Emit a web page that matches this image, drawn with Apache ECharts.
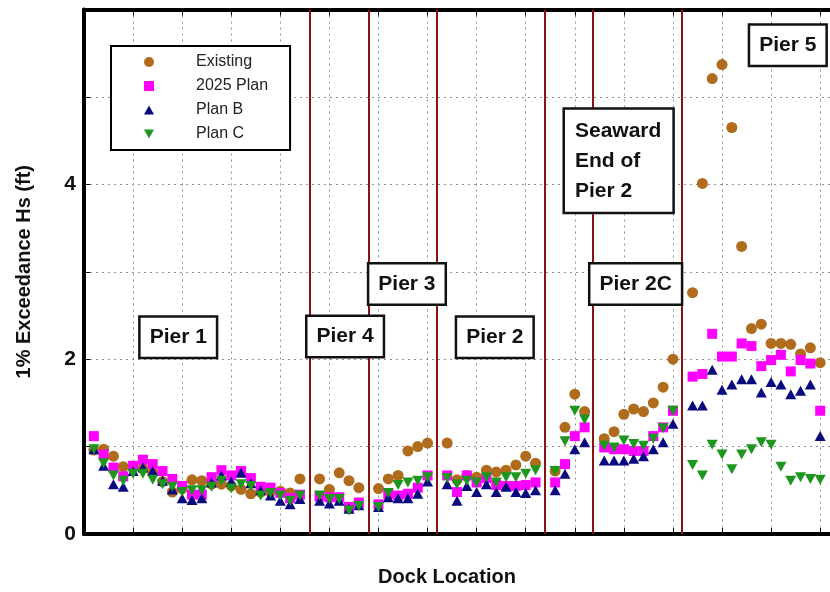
<!DOCTYPE html>
<html><head><meta charset="utf-8">
<script src="https://cdn.jsdelivr.net/npm/echarts@6/dist/echarts.min.js"></script>
<style>html,body{margin:0;padding:0;background:#fff}#c{width:830px;height:592px}</style>
</head><body><div id="c"></div><script>
// Dock location of each station (gaps at pier boundaries)
const loc = [1,2,3,4,5,6,7,8,9,10,11,12,13,14,15,16,17,18,19,20,21,22,
  24,25,26,27,28,
  30,31,32,33,34,35,
  37,38,39,40,41,42,43,44,45,46,
  48,49,50,51,
  53,54,55,56,57,58,59,60,
  62,63,64,65,66,67,68,69,70,71,72,73,74,75];

const existing = [0.96,0.97,0.89,0.77,0.76,0.75,0.70,0.60,0.48,0.52,0.62,0.61,0.57,0.57,0.55,0.51,0.46,0.48,0.48,0.49,0.47,0.63,
  0.63,0.51,0.70,0.61,0.53,
  0.52,0.63,0.67,0.95,1.00,1.04,
  1.04,0.62,0.67,0.65,0.73,0.71,0.73,0.79,0.89,0.81,
  0.72,1.22,1.60,1.40,
  1.09,1.17,1.37,1.43,1.40,1.50,1.68,2.00,
  2.76,4.01,5.21,5.37,4.65,3.29,2.35,2.40,2.18,2.18,2.17,2.06,2.13,1.96];

const plan2025 = [1.12,0.91,0.76,0.66,0.78,0.85,0.80,0.72,0.63,0.55,0.45,0.45,0.65,0.73,0.67,0.72,0.64,0.54,0.53,0.47,0.41,0.45,
  0.43,0.42,0.42,0.31,0.36,
  0.34,0.46,0.44,0.46,0.53,0.67,
  0.67,0.48,0.67,0.59,0.64,0.56,0.55,0.55,0.56,0.59,
  0.59,0.80,1.12,1.22,
  0.99,0.97,0.97,0.95,0.95,1.12,1.22,1.41,
  1.80,1.83,2.29,2.03,2.03,2.18,2.15,1.92,1.99,2.05,1.86,1.99,1.95,1.41];

const planB = [0.97,0.78,0.57,0.54,0.72,0.76,0.72,0.61,0.51,0.41,0.39,0.41,0.59,0.67,0.60,0.70,0.58,0.50,0.44,0.38,0.34,0.40,
  0.38,0.35,0.38,0.29,0.33,
  0.31,0.42,0.41,0.41,0.46,0.60,
  0.57,0.38,0.55,0.48,0.57,0.48,0.54,0.48,0.47,0.50,
  0.50,0.69,0.97,1.05,
  0.84,0.84,0.84,0.86,0.89,0.97,1.05,1.26,
  1.47,1.47,1.88,1.65,1.71,1.77,1.77,1.62,1.74,1.71,1.60,1.64,1.71,1.12];

const planC = [0.97,0.81,0.67,0.61,0.69,0.69,0.62,0.57,0.54,0.48,0.50,0.50,0.54,0.61,0.52,0.57,0.55,0.44,0.47,0.44,0.38,0.44,
  0.44,0.40,0.40,0.27,0.32,
  0.31,0.47,0.56,0.59,0.61,0.65,
  0.64,0.57,0.61,0.59,0.65,0.59,0.65,0.65,0.69,0.73,
  0.72,1.06,1.41,1.31,
  1.01,0.99,1.07,1.03,1.01,1.09,1.21,1.41,
  0.79,0.67,1.02,0.91,0.74,0.91,0.97,1.05,1.02,0.77,0.61,0.65,0.63,0.62];

const seriesNames = ['Existing','2025 Plan','Plan B','Plan C'];
const pierBoundaries = [23, 29, 35.9, 46.9, 51.8, 60.9];
const pierLabels = ['Pier 1','Pier 4','Pier 3','Pier 2','Seaward\nEnd of\nPier 2','Pier 2C','Pier 5'];
const pierLabelX = [9.6, 26.6, 32.9, 41.85, 49.0, 56.2, 71.7];
const pierLabelY = [2.25, 2.26, 2.86, 2.25, 4.27, 2.86, 5.59];
const yTickLabels = ['0','','2','','4','',''];

const FONT = "'Liberation Sans', Arial, sans-serif";
const DOWN_TRI = 'path://M0,0 L10,0 L5,9 Z';
const UP_TRI = 'path://M5,0 L10,9 L0,9 Z';
const pts = arr => loc.map((x, i) => [x, arr[i]]);

const chart = echarts.init(document.getElementById('c'), null, {renderer: 'canvas'});

const baseScatter = {
  type: 'scatter',
  symbolSize: 10,
  emphasis: {disabled: true},
  animation: false
};

chart.setOption({
  animation: false,
  backgroundColor: '#fff',
  grid: {left: 84, right: -3, top: 9.5, bottom: 57, show: false},
  legend: {
    orient: 'vertical',
    left: 111, top: 46,
    padding: [7, 22, 7, 33],
    itemWidth: 10, itemHeight: 10,
    itemGap: 6,
    borderColor: '#000', borderWidth: 2,
    backgroundColor: '#fff',
    textStyle: {fontFamily: FONT, fontSize: 16, color: '#222', lineHeight: 18, padding: [0, 0, 0, 37]},
    data: [
      {name: seriesNames[0], icon: 'circle'},
      {name: seriesNames[1], icon: 'rect'},
      {name: seriesNames[2], icon: UP_TRI},
      {name: seriesNames[3], icon: DOWN_TRI}
    ],
    z: 20
  },
  xAxis: [{
    type: 'value', min: 0, max: 76, interval: 5,
    name: 'Dock Location', nameLocation: 'middle', nameGap: 33,
    nameTextStyle: {fontFamily: FONT, fontSize: 20, fontWeight: 'bold', color: '#111', padding: [0, 20, 0, 0]},
    axisLine: {show: true, onZero: false, lineStyle: {color: '#000', width: 4}},
    axisTick: {show: true, inside: true, length: 6, lineStyle: {color: '#000', width: 1}},
    axisLabel: {show: false},
    splitLine: {show: true, lineStyle: {color: '#909090', type: [2, 4], width: 1}}
  }, {
    type: 'value', min: 0, max: 76, interval: 5, position: 'top',
    axisLine: {show: true, onZero: false, lineStyle: {color: '#000', width: 4}},
    axisTick: {show: true, inside: true, length: 6, lineStyle: {color: '#000', width: 1}},
    axisLabel: {show: false},
    splitLine: {show: false}
  }],
  yAxis: {
    type: 'value', min: 0, max: 6, interval: 1,
    name: '1% Exceedance Hs (ft)', nameLocation: 'middle', nameGap: 50,
    nameTextStyle: {fontFamily: FONT, fontSize: 20, fontWeight: 'bold', color: '#111'},
    axisLine: {show: true, onZero: false, lineStyle: {color: '#000', width: 4}},
    axisTick: {show: true, inside: true, length: 6, lineStyle: {color: '#000', width: 1}},
    axisLabel: {
      margin: 8, fontFamily: FONT, fontSize: 21, fontWeight: 'bold', color: '#111',
      formatter: v => yTickLabels[Math.round(v)] || ''
    },
    splitLine: {show: true, lineStyle: {color: '#909090', type: [2, 4], width: 1}}
  },
  series: [
    Object.assign({}, baseScatter, {
      name: seriesNames[0], data: pts(existing), symbol: 'circle', symbolSize: 11,
      itemStyle: {color: '#b06c1c', opacity: 1},
      markLine: {
        silent: true, animation: false, z: 3,
        symbol: ['none', 'none'],
        label: {show: false},
        lineStyle: {color: '#8b1212', width: 2, type: 'solid'},
        emphasis: {disabled: true},
        data: pierBoundaries.map(v => ({xAxis: v}))
      }
    }),
    Object.assign({}, baseScatter, {
      name: seriesNames[1], data: pts(plan2025), symbol: 'rect', symbolSize: 10,
      itemStyle: {color: '#ff00ff', opacity: 1}
    }),
    Object.assign({}, baseScatter, {
      name: seriesNames[2], data: pts(planB), symbol: UP_TRI, symbolSize: [11, 10],
      itemStyle: {color: '#0a0a80', opacity: 1}
    }),
    Object.assign({}, baseScatter, {
      name: seriesNames[3], data: pts(planC), symbol: DOWN_TRI, symbolSize: [11, 10],
      itemStyle: {color: '#1c961c', opacity: 1},
      markPoint: {
        silent: true, animation: false, z: 10,
        symbol: 'rect', symbolSize: 1,
        itemStyle: {color: 'rgba(0,0,0,0)'},
        label: {
          show: true, position: 'inside', formatter: '{b}',
          fontFamily: FONT, fontSize: 21, fontWeight: 'bold', color: '#111',
          backgroundColor: '#fff', borderColor: '#111', borderWidth: 2.5,
          padding: [9, 9, 8, 9], lineHeight: 22
        },
        data: pierLabels.map((t, i) => {
          const d = {name: t, coord: [pierLabelX[i], pierLabelY[i]]};
          if (t.indexOf('\n') >= 0) {
            d.label = {lineHeight: 30, align: 'left', padding: [6, 11, 6, 10]};
          }
          return d;
        })
      }
    })
  ]
});
</script></body></html>
